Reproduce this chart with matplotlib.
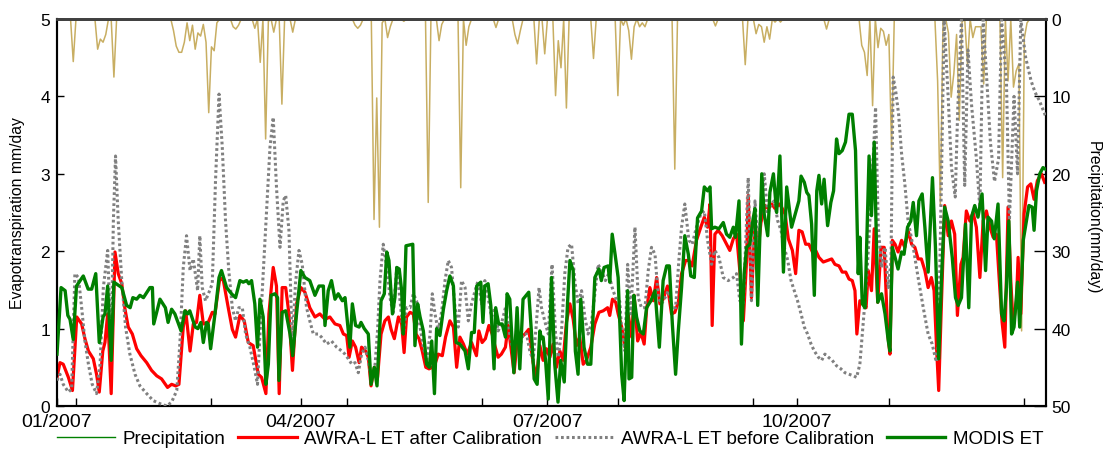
import numpy as np
import matplotlib
matplotlib.use("Agg")
import matplotlib.pyplot as plt
from matplotlib.lines import Line2D

plt.rcParams['font.family'] = ['Liberation Sans', 'DejaVu Sans']

# ---------------- data (day of year 2007, value) ----------------
modis_day = [0,1.5,3,4,4.8,6,7.2,9.7,11.5,12.8,14.3,15.6,17,17.7,18.7,20,21,23.9,25.7,27,28,29.4,30.6,31.9,34.3,35.2,35.7,38,40,41,42.3,43.5,45.8,47.2,48.2,49,51,52,53.1,54,55.2,55.8,56.7,58.3,59.8,60.7,62.6,64.4,65.9,67.5,68.7,70,70.8,71.8,73,74,74.9,76.1,77.1,78,79,80.4,81.4,81.9,83.1,84.4,86,87,88.4,90,91.5,93.3,95.2,96.7,98.3,98.9,100.1,101.3,102.6,103.8,105.3,106.3,107.3,108.1,109,110.2,111.5,112.2,113.4,114.9,115.9,117.1,118.1,119.6,120.8,121.7,122.5,123.8,124.7,125.4,126.3,127.2,127.8,128.8,131.3,132.1,133.1,134,135.2,136.4,137.4,138.3,139.3,140.1,141.3,142.6,143.8,145,146.3,147.3,148.7,150.6,151.8,153,154,154.9,156.4,157.2,157.9,159.1,160.1,161.3,161.9,163,164.3,165.5,166.1,167.1,168.6,169.8,170.8,172,174.1,175.1,176.1,177.2,178.2,178.8,179.4,180.3,181.3,182.5,183.7,184.9,185.9,187.2,188.4,189.3,190.5,191.3,192.3,193.3,194.5,195.8,197,198.5,200,200.9,201.9,203.4,204,204.9,206,207.1,208.4,209.3,210.6,211.1,212.1,212.9,213.9,215.1,216.4,217.6,219.2,220.7,222.3,223.7,225,226,227.1,228.3,229.3,230.5,231.7,233,233.9,235.2,236.4,237.9,238.9,240.1,241,241.6,242.8,244.3,245.9,247.1,248.3,249.6,250.4,251.7,252.6,253.6,254.5,255.7,256.9,257.6,258.6,260.1,261,262.3,263.1,264.4,265.6,266.8,268.1,269.3,271.1,272.6,273.8,274.6,275.8,276.7,277.5,278.5,279.5,280.4,281.2,282.2,283.1,284.4,285.6,286.6,287.7,288.6,289.8,291,292.3,293.5,294.7,295.7,296.3,297.2,298.2,299.7,300.6,301.6,302.9,304.3,305.6,306.8,307.4,308.3,309.3,310.4,311.7,312.6,313.9,315.1,316,317.2,318.1,319.3,320.3,321.5,323.1,324.2,325.4,326.4,327.6,328.9,330.4,331.6,332.6,333.8,335.3,336.5,337.5,338.7,339.9,341.4,342.7,343.6,344.9,345.9,347.3,348.6,349.5,350.4,351.3,352.3,353.2,354.5,355.3,356.6,357.5,358.7,359.9,360.6,361.5,362.7,363.9,364.8]
modis_et = [0.67,1.53,1.49,1.17,1.12,0.86,1.55,1.68,1.51,1.51,1.71,0.82,1.15,1.19,1.55,0.59,1.60,1.53,1.30,1.27,1.40,1.38,1.43,1.40,1.53,1.53,1.06,1.38,1.27,1.08,1.25,1.19,0.97,1.23,1.19,1.23,1.02,1.00,1.08,0.82,1.08,1.06,0.74,1.19,1.66,1.75,1.53,1.45,1.40,1.62,1.60,1.62,1.58,1.62,1.32,0.76,1.38,1.15,0.28,0.54,1.43,1.45,1.40,0.33,1.21,1.23,0.93,0.65,1.19,1.75,1.66,1.62,1.43,1.55,1.55,1.04,1.49,1.62,1.38,1.45,1.36,1.40,1.04,0.76,1.32,1.04,1.02,1.08,1.00,0.93,0.28,0.50,0.26,1.36,1.45,1.99,1.88,1.19,1.40,1.79,1.77,1.49,0.93,2.07,2.09,0.78,1.32,1.15,0.97,0.54,0.50,0.84,0.16,1.00,0.91,1.25,1.49,1.68,1.55,0.82,0.80,0.71,0.48,0.95,0.95,1.55,1.60,1.08,1.55,1.58,1.30,0.48,1.27,1.06,1.06,0.89,1.45,1.38,0.43,1.27,0.48,1.38,1.47,0.95,0.35,0.28,0.97,0.87,0.89,0.59,0.09,1.66,0.54,0.05,0.59,0.31,1.32,1.88,1.75,0.71,0.41,1.38,0.76,0.54,0.54,1.66,1.77,1.62,1.79,1.81,1.60,2.22,1.95,1.66,0.41,0.07,1.49,0.35,0.37,1.43,1.15,0.97,0.93,1.27,1.36,1.49,0.76,1.62,1.81,1.81,1.06,0.41,0.97,1.53,2.20,1.96,1.68,1.66,2.43,2.52,2.83,2.78,2.83,2.29,2.31,2.29,2.37,2.22,2.18,2.31,2.18,2.65,0.80,1.71,2.05,2.09,2.42,2.55,1.30,3.00,2.48,2.20,2.76,3.00,2.50,3.23,1.73,2.83,2.31,2.50,2.65,2.97,2.89,2.76,2.72,2.35,1.43,2.78,2.98,2.61,2.93,2.33,2.63,2.78,3.45,3.26,3.30,3.41,3.77,3.77,3.30,1.71,2.18,1.32,1.27,3.23,2.46,3.41,1.34,1.45,1.19,0.84,0.71,2.05,1.92,1.77,1.99,1.96,2.31,2.39,2.63,2.20,2.65,2.74,2.31,1.73,2.95,2.05,0.61,1.62,2.57,2.39,1.92,1.40,1.30,1.40,2.35,1.27,2.44,2.59,2.44,2.74,1.75,2.44,2.39,2.16,2.61,1.19,1.10,1.53,2.39,0.93,1.02,1.60,1.02,2.14,2.33,2.59,2.57,2.27,2.78,3.00,3.08,3.06]

after_day = [0,1.1,2.3,4.2,5.7,7.3,9.1,10.3,11.6,13.4,14.6,15.6,16.9,17.7,18.7,20,21.4,22.6,23.9,25.1,26.3,27.8,29.4,31,33.1,34.9,36.8,38.6,40.8,42.3,43.8,45,46.6,47.5,49.1,50.3,51.5,52.7,54,55.8,57.3,58.3,60.1,61.4,63.2,64.7,65.9,67.5,69.1,70.6,72.4,74.3,75.5,77.1,78.2,79.8,81,82,83.1,84.4,85.6,86.9,88.4,90,91.5,93.3,95.2,97,98.9,100.7,102.6,104.4,105.7,106.9,107.8,109,110.2,111.5,112.4,113.9,114.9,115.9,117.1,118.3,119.6,121,122.3,123.3,124.5,126,127.2,128.1,129,130.3,131.5,132.5,133.6,134.8,136.1,137.3,138.5,139.5,140.7,142.2,143.4,145,146.3,147.5,148.7,150,151.4,153,154.8,155.7,156.9,158.1,159.4,160.6,161.6,162.8,164,165.5,166.5,167.7,168.7,169.9,171.4,172.7,174.1,175.7,177,178.2,179.4,180.6,181.9,183.1,184.3,185.6,186.8,188,189.3,190.5,191.7,192.9,194.2,195.4,197,198.5,200,201.6,203.2,204,205,206.2,207.1,208.4,209.6,210.8,212.1,213,214.3,215.5,216.7,217.6,218.8,220.1,221.3,222.5,223.7,225.3,226.8,228,229.3,230.5,232,233.2,234.4,236,237.6,238.9,240.1,241,241.8,242.8,244,245.5,247.1,248.3,249.6,250.8,252,253.3,254.5,255.1,256.3,257.6,258.6,259.8,261.3,262.5,263.8,265,266.5,267.4,268.7,269.9,271.4,272.6,273.8,275,276.3,277.5,278.8,280,281.2,282.8,284.4,285.9,287.1,288.6,289.8,291.1,292.3,293.5,294.5,295.2,296.3,297.6,298.6,299.4,300.6,301.6,302.9,304.1,305.3,306.6,307.4,308.3,309.3,310.4,311.7,312.9,314.1,315.4,316.6,317.8,319,320.3,321.5,322.7,323.7,324.6,325.4,326.4,327.6,328.9,330.1,331.3,332.3,333.6,334.4,335.6,336.9,338.1,339.3,340.6,341.8,343,344.3,345.5,346.7,348,348.8,349.8,351,352,352.9,354.1,354.7,355.7,356.9,358.2,359.4,360.6,361.8,363.3,364.5]
after_et = [0.37,0.56,0.54,0.37,0.20,1.15,1.06,0.87,0.71,0.61,0.41,0.18,0.71,0.82,1.19,0.16,1.99,1.71,1.58,1.25,1.02,0.93,0.74,0.65,0.56,0.46,0.39,0.35,0.24,0.28,0.26,0.28,1.02,1.23,0.71,1.06,1.08,1.43,1.06,1.08,1.21,1.19,1.66,1.62,1.27,0.99,0.89,1.17,1.10,0.82,0.78,0.41,0.37,0.16,1.19,1.79,1.55,0.16,1.53,1.53,1.19,0.46,1.32,1.53,1.47,1.27,1.15,1.19,1.12,1.15,1.06,1.04,0.93,0.91,0.63,0.84,0.76,0.56,0.76,0.71,0.63,0.26,0.50,0.37,0.93,1.10,1.15,0.99,0.87,1.15,1.06,0.69,1.15,1.21,1.19,0.93,0.87,0.71,0.50,0.48,0.50,0.54,0.67,0.65,0.89,1.10,1.02,0.50,0.89,0.80,0.67,0.82,0.65,0.97,0.82,0.87,1.04,0.93,0.78,0.63,0.67,0.76,1.04,0.71,0.43,0.87,0.89,0.93,0.99,0.56,0.37,0.78,0.59,0.74,0.63,0.80,0.50,0.71,0.59,1.08,1.32,1.12,0.78,0.89,0.54,0.59,0.76,1.06,1.21,1.23,1.27,1.17,1.38,1.34,1.19,1.02,0.76,1.19,0.89,1.43,0.84,0.95,0.80,1.25,1.53,1.36,1.66,1.32,1.38,1.55,1.19,1.21,1.34,1.71,1.88,1.88,1.81,2.14,2.31,2.44,2.31,2.61,1.04,2.22,2.27,2.20,2.09,2.01,2.16,2.22,1.75,1.10,1.88,2.72,1.40,2.39,1.96,2.37,2.59,2.55,2.61,2.55,2.61,2.57,2.48,2.16,2.01,1.71,2.27,2.25,2.09,2.09,1.99,2.01,1.92,1.86,1.88,1.90,1.83,1.81,1.73,1.73,1.64,1.62,1.49,0.93,1.36,1.32,1.27,1.75,1.49,2.29,1.34,2.05,2.05,0.93,0.67,2.14,2.09,1.99,2.14,2.05,2.27,2.09,2.05,1.90,1.90,1.75,1.53,1.66,1.49,0.76,0.20,1.32,2.59,2.20,2.39,2.22,1.17,1.83,1.92,2.52,2.39,2.50,2.31,1.66,2.39,2.52,2.31,2.18,2.22,1.49,1.08,0.76,2.57,1.62,1.04,1.36,1.92,1.19,2.48,2.83,2.87,2.67,2.91,3.00,2.89]

before_day = [0,1.1,2.3,4.2,5.4,6.6,7.9,9.1,10.3,11.6,13,14.6,15.9,17.1,18.7,20,20.8,21.6,22.6,23.9,25.3,26.9,28.8,30.6,33.1,35.5,38,40.5,42.3,44.2,45.4,46.6,47.8,49.1,50.3,51.9,52.7,53.6,54.8,56.1,57.3,58.5,59.8,61,62.2,63.4,64.7,65.9,67.1,68.4,69.6,71.2,72.8,74,74.9,76.1,77.3,78.6,79.8,81,82.3,83.5,84.4,85.6,86.8,88,89.3,90.5,92.1,93.3,94.6,96.4,97.6,99.5,101.3,103.2,105.1,106.3,107.5,108.8,110,111.2,112.4,113.7,114.9,116.1,117.4,118.3,119.2,120.4,121.7,122.9,124.1,125.4,126.6,127.8,129,130.3,131.5,132.7,134,135.2,136.4,137.7,138.5,139.5,140.7,142,143.2,144.4,145.6,146.9,148.1,149.3,150.6,151.8,153,154.3,155.4,156.7,157.9,159.1,160.4,161.6,162.8,164,165.5,167.1,168.3,169.6,170.8,172,173.3,174.5,175.7,176.7,177.9,178.8,180,181.3,182.7,184,185,186.2,187.4,188.6,189.9,191.1,192.3,193.6,194.8,196,197.2,198.5,199.7,200.9,202.4,203.6,204.9,206.5,207.7,208.4,209.6,210.6,211.8,213.3,214.5,215.7,217,218.2,219.4,220.7,221.9,223.1,224.4,225.6,227.1,228.3,229.5,230.5,231.7,233.2,234.4,236,237.6,238.9,240.1,241.6,242.8,244.3,245.9,247.7,249.6,250.8,252,253.3,255.1,256.3,257.6,258.8,260.1,261,262.3,263.5,264.7,266,267.2,268.4,269.7,270.9,272.1,273.3,274.6,275.8,277,278.3,279.5,281,282.2,283.4,284.7,286.1,287.7,289.3,290.8,292.3,293.9,295.1,296.3,297.2,298.2,299.2,300,301.3,302.1,303.1,304.3,305.6,306.8,307.8,308.6,309.6,310.6,311.7,312.9,314.1,316,317.8,319.7,321.5,323,324.5,325.3,326.4,327.4,328.9,330.1,331.5,332.4,333.8,335,336.2,337.5,339.3,340.6,341.8,343,344.5,346,347.5,348.6,350.4,351.5,353.2,354.5,355.7,357.5,359.5,361,362.5,364.8]
before_et = [0.33,0.41,0.28,0.18,0.22,1.71,1.66,1.27,0.84,0.54,0.28,0.16,0.54,1.53,2.01,0.67,2.39,3.23,2.39,1.62,1.02,0.67,0.41,0.26,0.16,0.07,0.03,0.00,0.05,0.20,0.84,1.79,2.20,1.75,1.90,1.49,2.20,1.53,1.36,1.47,1.58,2.91,4.03,3.34,2.39,1.75,1.27,1.10,1.27,1.27,0.93,0.76,0.50,0.28,0.93,1.71,2.48,3.34,3.73,2.83,2.05,2.65,2.72,2.27,0.76,1.58,2.01,1.83,1.27,1.10,0.93,0.93,0.89,0.80,0.84,0.76,0.71,0.67,0.61,0.54,0.56,0.43,0.67,0.76,0.59,0.33,0.54,0.97,1.62,2.09,1.79,1.40,1.19,1.79,1.36,0.93,1.27,1.27,1.45,1.36,1.02,0.76,0.59,0.93,1.45,1.19,0.97,1.23,1.62,1.88,1.79,1.27,1.02,1.62,1.53,1.10,1.32,1.49,1.62,1.32,1.62,1.40,1.15,1.27,0.97,1.06,1.27,0.93,0.71,0.97,0.76,0.93,0.93,0.71,0.59,0.97,1.53,1.27,1.10,0.93,1.83,0.93,0.63,0.97,1.71,2.05,2.09,1.62,1.32,1.49,1.15,0.93,1.06,1.45,1.83,1.75,1.62,1.71,1.53,1.36,1.35,0.97,0.71,1.83,1.19,2.31,1.40,1.27,1.27,1.75,2.05,1.96,1.40,1.32,1.40,1.49,1.27,1.27,1.88,2.31,2.61,2.14,2.09,2.31,2.48,2.52,2.14,1.83,2.01,1.92,1.66,1.62,1.66,1.71,1.36,1.32,2.95,1.36,2.65,2.05,2.65,3.00,2.48,2.61,2.65,2.39,2.27,2.05,1.88,1.62,1.49,1.36,1.19,1.02,0.93,0.80,0.71,0.63,0.59,0.67,0.63,0.59,0.52,0.48,0.43,0.41,0.39,0.37,0.54,0.93,1.36,1.88,2.39,3.26,3.86,2.31,1.79,2.05,1.53,1.88,4.25,4.05,3.77,3.26,2.87,2.39,2.05,1.66,1.27,0.93,0.80,0.57,0.80,2.91,4.98,3.99,3.08,2.70,3.80,4.99,2.85,4.60,3.90,3.20,2.55,4.99,4.30,3.40,2.90,3.20,4.99,4.20,2.40,4.00,3.00,4.99,4.50,4.20,4.05,3.95,3.75]

precip_event_day = [6,15,16,17,18,21,43,44,45,46,47,48,49,50,51,52,53,54,55,56,57,58,59,65,66,67,73,75,77,78,80,83,87,110,111,112,117,118,119,120,122,123,128,137,141,142,149,151,152,162,169,170,171,177,180,184,185,186,188,198,207,209,211,212,213,215,216,217,228,243,254,258,259,260,261,262,263,265,267,284,297,298,299,301,303,304,305,306,307,308,325,326,329,330,331,332,333,334,336,338,339,340,341,342,349,351,353,354,355,356,357,358]
precip_event_mm = [5.5,3.9,2.6,3.0,2.0,7.5,1.5,3.5,4.3,4.3,3.0,0.5,2.8,0.8,3.9,1.8,2.2,0.7,3.0,12.1,3.6,4.1,0.5,1.0,1.3,0.8,1.2,5.6,15.5,0.3,1.7,11.0,1.7,0.8,1.2,0.8,25.9,10.2,26.9,0.5,2.4,1.0,0.3,23.7,2.8,0.7,21.8,3.4,1.0,1.1,2.0,3.2,1.5,5.8,4.5,9.9,2.8,6.3,11.5,5.1,9.9,0.8,1.5,5.2,1.0,1.0,0.5,1.0,19.4,0.9,5.9,1.9,0.7,1.0,3.0,1.0,2.6,0.4,0.4,1.3,3.4,4.3,7.3,11.2,3.7,1.2,1.6,3.4,2.0,16.8,8.0,24.1,1.8,10.1,7.0,2.0,13.1,0.4,5.8,2.4,1.0,1.0,1.0,8.4,20.5,8.0,8.8,6.7,5.8,40.3,2.5,0.5]

month_tick_days = [0, 90, 181, 273]
month_tick_labels = ['01/2007', '04/2007', '07/2007', '10/2007']
minor_tick_days = [7, 57, 107, 157, 207, 257, 307, 357]

# daily precipitation series built from the events
precip_days = np.arange(0, 365)
precip = np.zeros(len(precip_days))
for d, v in zip(precip_event_day, precip_event_mm):
    precip[d] = v

# ---------------- figure ----------------
fig = plt.figure(figsize=(11.05, 4.52), dpi=100)
ax = fig.add_axes([57/1105, 1-407/452, (1046-57)/1105, (407-20)/452])
ax2 = ax.twinx()

ax.set_zorder(2)
ax.patch.set_visible(False)

ax2.plot(precip_days, precip, color='#C8AE62', lw=1.1, zorder=1)
ax2.set_ylim(50, 0)

ax.plot(after_day, after_et, color='#FF0000', lw=2.3, zorder=2)
ax.plot(before_day, before_et, color='#808080', lw=2.2, ls=(0, (0.9, 0.9)), zorder=3)
ax.plot(modis_day, modis_et, color='#007F00', lw=2.4, zorder=4)

ax.set_xlim(0, 365)
ax.set_ylim(0, 5)

ax.set_xticks(month_tick_days)
ax.set_xticklabels(month_tick_labels)
ax.set_xticks(minor_tick_days, minor=True)
ax.tick_params(axis='x', which='both', direction='in', length=6, width=1, pad=5, labelsize=14)
ax.tick_params(axis='y', direction='in', length=5, width=1, pad=5, labelsize=12.5)
ax.set_yticks([0, 1, 2, 3, 4, 5])
ax2.set_yticks([0, 10, 20, 30, 40, 50])
ax2.tick_params(axis='y', direction='in', length=9, width=1, pad=4, labelsize=12.5)

for a in (ax, ax2):
    for s in a.spines.values():
        s.set_linewidth(1.5)
    a.spines['top'].set_color('#404040')
    a.spines['top'].set_linewidth(2)

ax.set_ylabel('Evapotranspiration mm/day', fontsize=11.3)
ax.yaxis.set_label_coords(-32/989, 0.5)
ax2.set_ylabel('Precipitation(mm/day)', fontsize=11.3, rotation=270, va='center', ha='center')
ax2.yaxis.set_label_coords(1036/989, 0.49)

handles = [
    Line2D([], [], color='#008000', lw=1.0),
    Line2D([], [], color='#FF0000', lw=2.3),
    Line2D([], [], color='#808080', lw=2.2, ls=(0, (0.9, 0.9))),
    Line2D([], [], color='#007F00', lw=2.4),
]
labels = ['Precipitation', 'AWRA-L ET after Calibration', 'AWRA-L ET before Calibration', 'MODIS ET']
fig.legend(handles, labels, loc='center', bbox_to_anchor=(0.4977, 0.027), ncol=4, frameon=False,
           fontsize=13.5, handlelength=3.1, handletextpad=0.4, columnspacing=0.7, borderaxespad=0)

fig.savefig('out.png', dpi=100)
